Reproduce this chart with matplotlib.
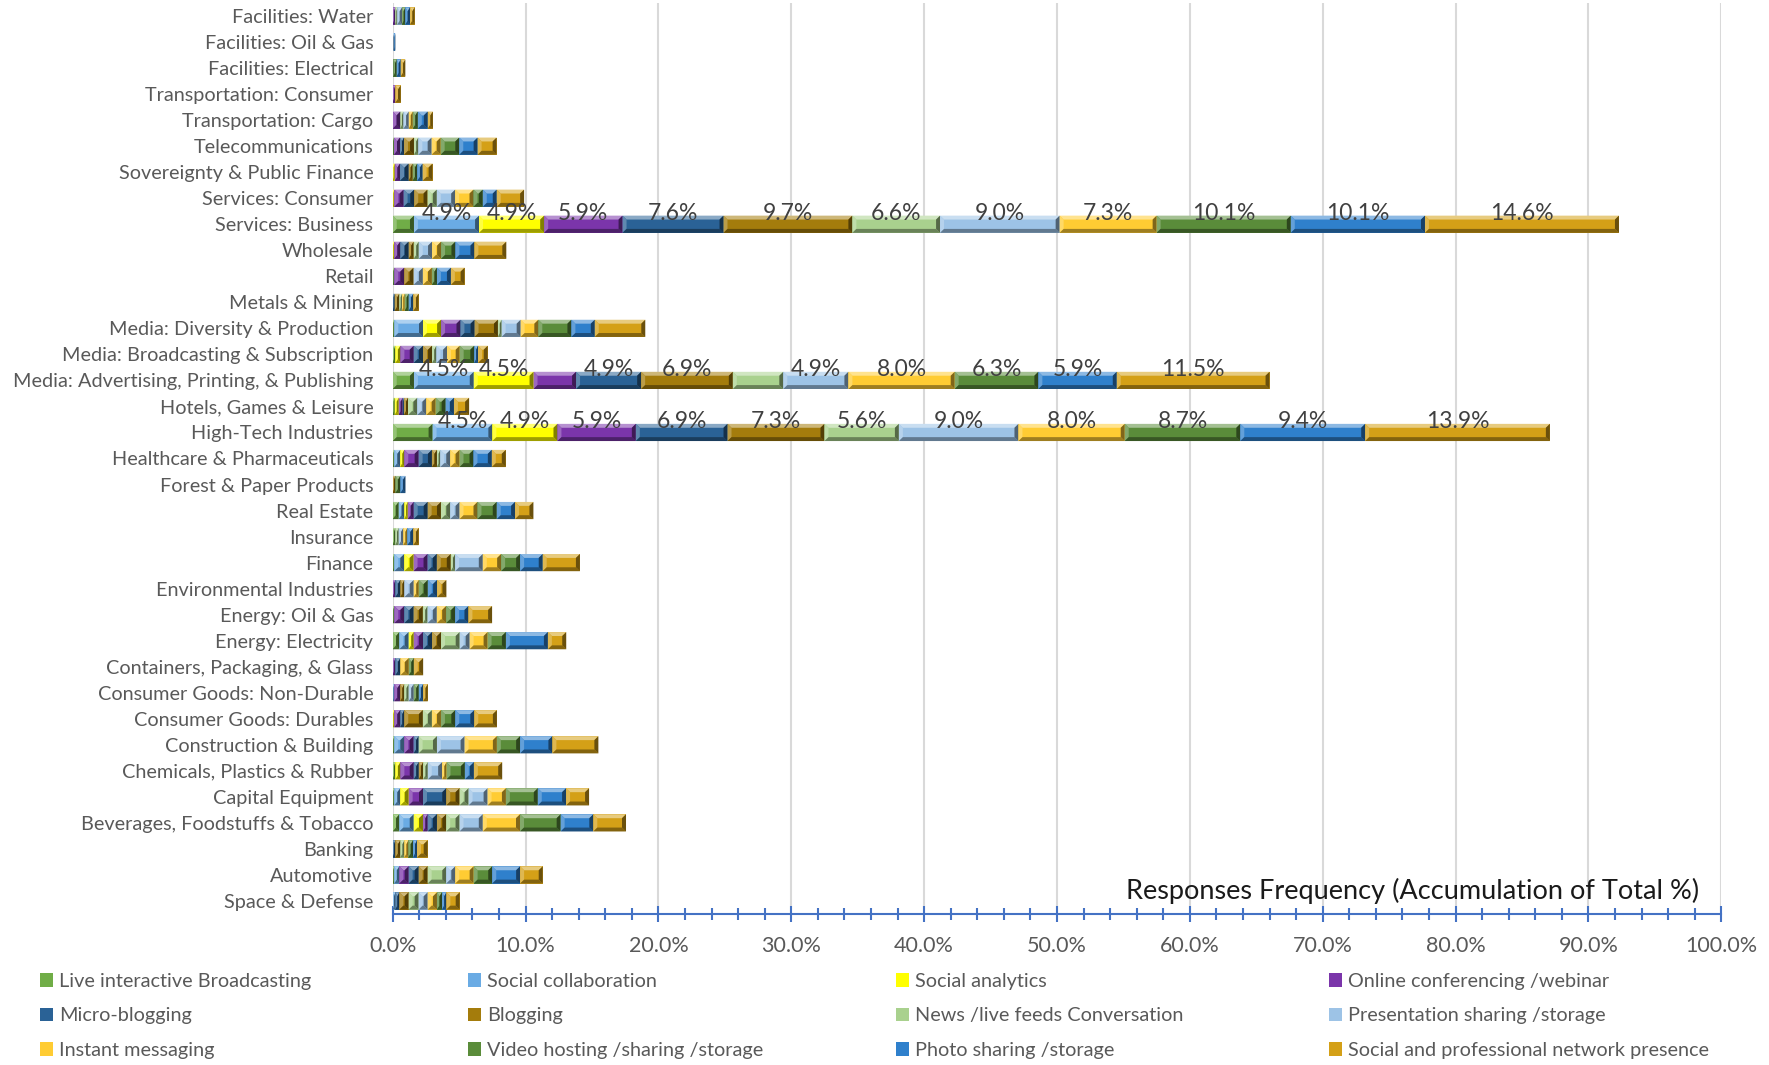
import numpy as np
import matplotlib.pyplot as plt
from matplotlib.patches import Polygon
from matplotlib.colors import to_rgb

plt.rcParams['font.family'] = ['Lato', 'DejaVu Sans']

# categories, top to bottom
categories = [
    "Facilities: Water", "Facilities: Oil & Gas", "Facilities: Electrical",
    "Transportation: Consumer", "Transportation: Cargo", "Telecommunications",
    "Sovereignty & Public Finance", "Services: Consumer", "Services: Business",
    "Wholesale", "Retail", "Metals & Mining", "Media: Diversity & Production",
    "Media: Broadcasting & Subscription", "Media: Advertising, Printing, & Publishing",
    "Hotels, Games & Leisure", "High-Tech Industries", "Healthcare & Pharmaceuticals",
    "Forest & Paper Products", "Real Estate", "Insurance", "Finance",
    "Environmental Industries", "Energy: Oil & Gas", "Energy: Electricity",
    "Containers, Packaging, & Glass", "Consumer Goods: Non-Durable",
    "Consumer Goods: Durables", "Construction & Building", "Chemicals, Plastics & Rubber",
    "Capital Equipment", "Beverages, Foodstuffs & Tobacco", "Banking", "Automotive",
    "Space & Defense",
]

series = [
    "Live interactive Broadcasting", "Social collaboration", "Social analytics",
    "Online conferencing /webinar", "Micro-blogging", "Blogging",
    "News /live feeds Conversation", "Presentation sharing /storage",
    "Instant messaging", "Video hosting /sharing /storage", "Photo sharing /storage",
    "Social and professional network presence",
]

# % of total responses, same order as categories
live = [0, 0, 0, 0, 0, 0.1, 0, 0, 1.6, 0, 0.12, 0, 0.12, 0.2, 1.6, 0.15, 3.0, 0.12, 0,
        0.45, 0.2, 0.12, 0, 0.12, 0.5, 0, 0, 0, 0.12, 0.2, 0.12, 0.5, 0, 0.12, 0]
collab = [0, 0, 0, 0, 0, 0, 0, 0, 4.9, 0, 0, 0, 2.16, 0, 4.5, 0, 4.5, 0.45, 0, 0.43, 0,
          0.75, 0, 0, 0.7, 0, 0.12, 0, 0.75, 0, 0.45, 1.08, 0, 0.38, 0.2]
analytics = [0, 0, 0, 0, 0, 0, 0.15, 0.12, 4.9, 0.12, 0, 0, 1.36, 0.38, 4.5, 0.3, 4.9,
             0.3, 0, 0.25, 0, 0.7, 0, 0, 0.38, 0, 0, 0.12, 0, 0.38, 0.63, 0.7, 0, 0, 0]
conferencing = [0.2, 0, 0, 0.2, 0.58, 0.45, 0.4, 0.7, 5.9, 0.45, 0.75, 0, 1.46, 1.0, 3.2,
                0.3, 5.9, 1.08, 0, 0.45, 0, 1.05, 0.2, 0.75, 0.7, 0.2, 0.45, 0.45, 0.7,
                1.0, 1.08, 0.35, 0, 0.7, 0]
microblog = [0, 0, 0.05, 0, 0, 0.3, 0.65, 0.8, 7.6, 0.63, 0, 0.15, 1.06, 0.7, 4.9, 0.1,
             6.9, 1.0, 0, 1.05, 0, 0.7, 0.38, 0.7, 0.68, 0.38, 0, 0.3, 0.38, 0.38, 1.75,
             0.7, 0.2, 0.75, 0.3]
blogging = [0, 0, 0, 0, 0, 0.75, 0.3, 1.0, 9.7, 0.38, 0.7, 0.35, 1.76, 0.68, 6.9, 0.3,
            7.3, 0.38, 0.2, 1.0, 0, 1.05, 0.3, 0.7, 0.68, 0, 0.3, 1.4, 0, 0.33, 1.0, 0.7,
            0.38, 0.68, 0.7]
news = [0.15, 0, 0, 0, 0.23, 0.33, 0, 0.7, 6.6, 0.38, 0, 0.2, 0.28, 0.33, 3.8, 0.7, 5.6,
        0.25, 0, 0.7, 0.25, 0.33, 0, 0.35, 1.4, 0, 0.33, 0.68, 1.38, 0.35, 0.68, 1.0, 0.3,
        1.4, 0.75]
presentation = [0.35, 0.1, 0, 0, 0.4, 1.0, 0, 1.38, 9.0, 1.0, 0.7, 0, 1.43, 0.8, 4.9,
                0.68, 9.0, 0.75, 0, 0.7, 0.35, 2.08, 0.7, 0.7, 0.75, 0, 0.38, 0, 2.08,
                1.08, 1.43, 1.75, 0, 0.68, 0.68]
instant = [0, 0, 0, 0, 0.3, 0.68, 0, 1.38, 7.3, 0.68, 0.68, 0.2, 1.33, 0.95, 8.0, 0.7,
           8.0, 0.7, 0, 1.35, 0.3, 1.38, 0.38, 0.7, 1.35, 0.63, 0, 0.68, 2.43, 0.33, 1.38,
           2.8, 0.3, 1.38, 0.7]
video = [0.25, 0, 0.25, 0, 0.38, 1.4, 0.35, 0.7, 10.1, 1.08, 0.38, 0.3, 2.49, 1.1, 6.3,
         0.75, 8.7, 1.05, 0.38, 1.45, 0, 1.43, 0.68, 0.68, 1.38, 0.38, 0.38, 1.08, 1.75,
         1.38, 2.4, 3.06, 0.35, 1.4, 0.38]
photo = [0.35, 0.1, 0.3, 0, 0.75, 1.38, 0.4, 1.05, 10.1, 1.43, 1.05, 0.35, 1.76, 0.28, 5.9,
         0.63, 9.4, 1.38, 0.38, 1.38, 0.45, 1.7, 0.7, 1.0, 3.16, 0, 0.33, 1.43, 2.43, 0.68,
         2.13, 2.46, 0.3, 2.1, 0.33]
network = [0.35, 0, 0.35, 0.4, 0.38, 1.43, 0.75, 2.06, 14.6, 2.4, 1.03, 0.4, 3.8, 0.73,
           11.5, 1.14, 13.9, 1.05, 0, 1.38, 0.4, 2.8, 0.7, 1.78, 1.38, 0.7, 0.35, 1.7,
           3.46, 2.13, 1.73, 2.46, 0.8, 1.7, 1.0]

colors = ["#70AD47", "#6AABE4", "#FFFF00", "#7B35AA", "#2A6296", "#A47C0C",
          "#A9D18E", "#9DC3E6", "#FFCC33", "#5A8C3A", "#2F80CC", "#D4A017"]

data = np.array([live, collab, analytics, conferencing, microblog, blogging, news,
                 presentation, instant, video, photo, network])

n = len(categories)
y = np.arange(n)[::-1]
bar_h = 0.66
bx, by = 0.3, 0.15   # bevel size in data units


def shade(c, f):
    c = np.array(to_rgb(c))
    if f > 0:
        return tuple(c + (1 - c) * f)
    return tuple(c * (1 + f))


fig = plt.figure(figsize=(17.69, 10.65), dpi=100)
ax = fig.add_axes([0.222, 0.1418, 0.751, 0.8554])

left = np.zeros(n)
handles = []
for k, name in enumerate(series):
    vals = data[k]
    bars = ax.barh(y, vals, left=left, height=bar_h, color=colors[k], label=name,
                   linewidth=0, zorder=3)
    handles.append(bars)
    # bevelled faces on every segment
    for yi, x0, w in zip(y, left, vals):
        if w <= 0:
            continue
        x1 = x0 + w
        y0, y1 = yi - bar_h / 2, yi + bar_h / 2
        b = min(bx, w / 2)
        faces = [
            ([(x0, y1), (x1, y1), (x1 - b, y1 - by), (x0 + b, y1 - by)], 0.45),
            ([(x0, y0), (x0, y1), (x0 + b, y1 - by), (x0 + b, y0 + by)], 0.25),
            ([(x0, y0), (x1, y0), (x1 - b, y0 + by), (x0 + b, y0 + by)], -0.38),
            ([(x1, y0), (x1, y1), (x1 - b, y1 - by), (x1 - b, y0 + by)], -0.5),
        ]
        for pts, f in faces:
            ax.add_patch(Polygon(pts, closed=True, facecolor=shade(colors[k], f),
                                 linewidth=0, zorder=4))
        if w >= 4:
            ax.text(x0 + w / 2, yi + 0.42, f"{w:.1f}%", ha="center", va="center",
                    fontsize=16.5, color="#404040", zorder=6)
    left = left + vals

ax.set_xlim(0, 100)
ax.set_ylim(-0.5, n - 0.5)
ax.set_yticks(y)
ax.set_yticklabels(categories, fontsize=14.3, color="#595959")
ax.tick_params(axis="y", length=0, pad=14)

ax.set_xticks(np.arange(0, 101, 10))
ax.set_xticks(np.arange(0, 101, 2), minor=True)
ax.set_xticklabels([f"{v:.1f}%" for v in np.arange(0, 101, 10)], fontsize=15.5,
                   color="#595959")
ax.tick_params(axis="x", which="major", direction="inout", length=12, width=1.5,
               color="#4472C4", pad=10)
ax.tick_params(axis="x", which="minor", direction="inout", length=9, width=1.5,
               color="#4472C4")
ax.grid(axis="x", which="major", color="#D9D9D9", linewidth=1.5, zorder=0)
ax.set_axisbelow(True)
for s in ("top", "right", "left"):
    ax.spines[s].set_visible(False)
ax.spines["bottom"].set_color("#4472C4")
ax.spines["bottom"].set_linewidth(1.5)

ax.text(98.3, 0.4, "Responses Frequency (Accumulation of Total %)", ha="right",
        va="center", fontsize=19.5, color="#1a1a1a", zorder=6)

# legend: 3 rows x 4 columns, each column as its own legend
col_x = [0.0225, 0.2645, 0.5065, 0.7515]
for c in range(4):
    h = [handles[c + 4 * r] for r in range(3)]
    leg = fig.legend(h, [series[c + 4 * r] for r in range(3)], loc="upper left",
                     bbox_to_anchor=(col_x[c], 0.0864), frameon=False, fontsize=14.3,
                     labelcolor="#595959", handlelength=0.65, handleheight=0.65,
                     handletextpad=0.3, labelspacing=0.88, borderpad=0,
                     borderaxespad=0)

fig.savefig("out.png", dpi=100)
